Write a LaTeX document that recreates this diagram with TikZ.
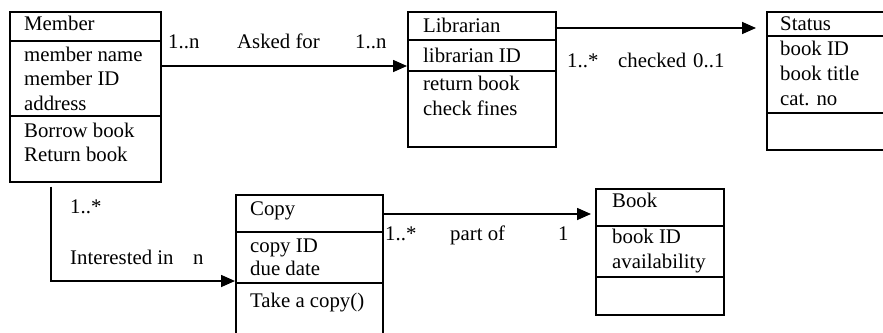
\documentclass[tikz,border=0pt]{standalone}
\usepackage{fontspec}
\setmainfont{Liberation Serif}
\usetikzlibrary{arrows.meta}

\tikzset{
	classbox/.style={draw, line width=1.6pt, anchor=north west, inner sep=0pt},
	divider/.style={line width=1.6pt},
	classtext/.style={anchor=base west, inner sep=0pt, font=\fontsize{20.8}{24}\selectfont},
	assoc/.style={line width=1.6pt, -{Triangle[length=14pt,width=12pt]}}
}

\begin{document}
\begin{tikzpicture}[x=1pt,y=-1pt]
		\useasboundingbox (0,0) rectangle (883,332);

		% Class boxes
		\node[classbox, minimum width=151pt, minimum height=170pt] (member) at (9,11) {};
		\node[classbox, minimum width=148pt, minimum height=135pt] (librarian) at (407,11) {};
		\node[classbox, minimum width=140pt, minimum height=138pt] (status) at (766,11) {};
		\node[classbox, minimum width=147pt, minimum height=160pt] (copy) at (235,194) {};
		\node[classbox, minimum width=128pt, minimum height=126pt] (book) at (595,188) {};

		% Dividers
		\draw[divider] (member.west |- 0,41) -- (member.east |- 0,41);
		\draw[divider] (member.west |- 0,116) -- (member.east |- 0,116);
		\draw[divider] (librarian.west |- 0,40) -- (librarian.east |- 0,40);
		\draw[divider] (librarian.west |- 0,71) -- (librarian.east |- 0,71);
		\draw[divider] (status.west |- 0,36) -- (status.east |- 0,36);
		\draw[divider] (status.west |- 0,113) -- (status.east |- 0,113);
		\draw[divider] (copy.west |- 0,232) -- (copy.east |- 0,232);
		\draw[divider] (copy.west |- 0,283) -- (copy.east |- 0,283);
		\draw[divider] (book.west |- 0,226) -- (book.east |- 0,226);
		\draw[divider] (book.west |- 0,277) -- (book.east |- 0,277);

		% Member
		\node[classtext] (memberName) at (24,30) {Member};
		\foreach \txt [count=\i] in {member name, member ID, address} {
				\node[classtext] (memberAttr\i) at (24,61+24.5*\i-24.5) {\txt};
			}
		\foreach \txt [count=\i] in {Borrow book, Return book} {
				\node[classtext] (memberOp\i) at (24,137+24*\i-24) {\txt};
			}

		% Librarian
		\node[classtext] (librarianName) at (423,32) {Librarian};
		\node[classtext] (librarianAttr1) at (423,62) {librarian ID};
		\foreach \txt [count=\i] in {return book, check fines} {
				\node[classtext] (librarianOp\i) at (423,90+25*\i-25) {\txt};
			}

		% Status
		\node[classtext] (statusName) at (780,30) {Status};
		\foreach \txt [count=\i] in {book ID, book title, cat. no} {
				\node[classtext] (statusAttr\i) at (780,55+25*\i-25) {\txt};
			}

		% Copy
		\node[classtext] (copyName) at (250,215) {Copy};
		\foreach \txt [count=\i] in {copy ID, due date} {
				\node[classtext] (copyAttr\i) at (250,252+23*\i-23) {\txt};
			}
		\node[classtext] (copyOp1) at (250,307) {Take a copy()};

		% Book
		\node[classtext] (bookName) at (612,207) {Book};
		\foreach \txt [count=\i] in {book ID, availability} {
				\node[classtext] (bookAttr\i) at (612,243+25*\i-25) {\txt};
			}

		% Associations
		\draw[assoc] (member.east |- 0,66) -- (librarian.west |- 0,66); % Asked for
		\draw[assoc, shorten >=10pt] ([xshift=-2pt]librarian.east |- 0,28) -- (status.west |- 0,28); % checked
		\draw[assoc] ([xshift=42pt,yshift=-4pt]member.south west) |- (copy.west |- 0,281); % Interested in
		\draw[assoc, shorten >=4pt] (copy.east |- 0,214) -- (book.west |- 0,214); % part of

		% Multiplicities and names
		\node[classtext] (askedFrom) at (168,48) {1..n};
		\node[classtext] (askedName) at (237,48) {Asked for};
		\node[classtext] (askedTo) at (355,48) {1..n};
		\node[classtext] (checkedFrom) at (567,67) {1..*};
		\node[classtext] (checkedName) at (618,67) {checked};
		\node[classtext] (checkedTo) at (693,67) {0..1};
		\node[classtext] (interestedFrom) at (70,213) {1..*};
		\node[classtext] (interestedName) at (70,264) {Interested in};
		\node[classtext] (interestedTo) at (193,264) {n};
		\node[classtext] (partFrom) at (385,240) {1..*};
		\node[classtext] (partName) at (450,240) {part of};
		\node[classtext] (partTo) at (558,240) {1};

	\end{tikzpicture}
\end{document}
